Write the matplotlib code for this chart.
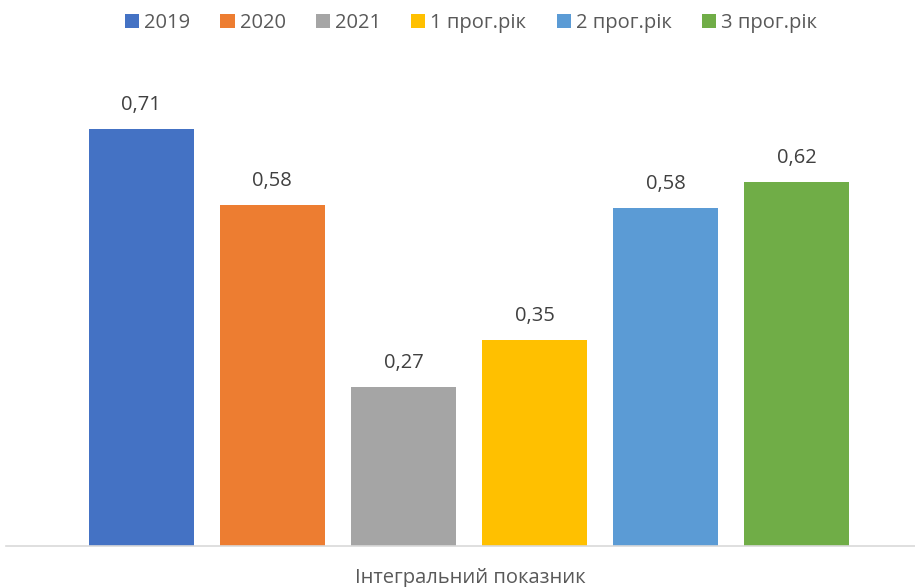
import matplotlib
matplotlib.use("Agg")
import matplotlib.pyplot as plt
from matplotlib.patches import Patch

series = ["2019", "2020", "2021", "1 прог.рік", "2 прог.рік", "3 прог.рік"]
values = [0.71, 0.58, 0.27, 0.35, 0.575, 0.62]
labels = ["0,71", "0,58", "0,27", "0,35", "0,58", "0,62"]
colors = ["#4472C4", "#ED7D31", "#A5A5A5", "#FFC000", "#5B9BD5", "#70AD47"]
category = "Інтегральний показник"

plt.rcParams["font.family"] = ["Open Sans", "DejaVu Sans"]

W, H = 915, 587
fig = plt.figure(figsize=(W / 100, H / 100), dpi=100)

# axes placed in pixel terms: left 6, right 915, bottom 545.5, top 60
left, right, bottom, top = 6, 915, 545.5, 60
ax = fig.add_axes([left / W, (H - bottom) / H, (right - left) / W, (bottom - top) / H])

pitch = 131.2
first = 141
xs = list(range(len(series)))
ax.bar(xs, values, width=105 / pitch, color=colors, zorder=2)
ax.set_xlim((left - first) / pitch, (right - first) / pitch)
ax.set_ylim(0, (bottom - top) / 587)

for x, v, lab in zip(xs, values, labels):
    ax.annotate(lab, (x, v), xytext=(0, 10), textcoords="offset points",
                ha="center", va="bottom", fontsize=14.5, color="#404040")

for s in ["top", "right", "left"]:
    ax.spines[s].set_visible(False)
ax.spines["bottom"].set_color("#D9D9D9")
ax.spines["bottom"].set_linewidth(1.2)
ax.set_xticks([])
ax.set_yticks([])

fig.text(470 / W, 1 - 578 / H, category, ha="center", va="center",
         fontsize=14.5, color="#595959")

handles = [Patch(facecolor=c, edgecolor="none") for c in colors]
fig.legend(handles, series, loc="center", bbox_to_anchor=(471 / W, 1 - 23 / H),
           ncol=6, frameon=False, fontsize=14.5, labelcolor="#595959",
           handlelength=0.7, handleheight=0.7, handletextpad=0.25,
           columnspacing=1.5)

fig.savefig("out.png", dpi=100)
